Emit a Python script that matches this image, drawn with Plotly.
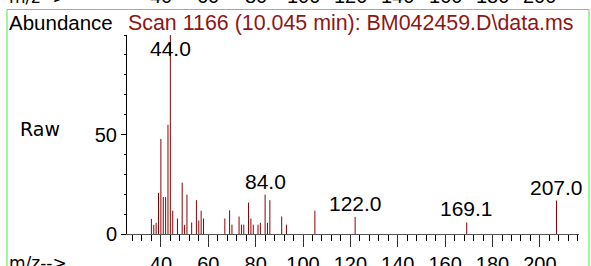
import plotly.graph_objects as go

# ---- data ----
mz = [36, 37, 38, 39, 40, 41, 42, 43, 44, 45, 47, 49, 50, 51, 53, 55, 56, 57, 58,
      67, 69, 70, 73, 74, 75, 77, 78, 79, 81, 82, 84, 85, 86, 91, 93, 105, 122,
      169.1, 207]
abundance = [7.6, 4.6, 5.6, 20.7, 47.8, 18.6, 18.6, 54.9, 100, 11.7, 7.8, 25.8,
             4.6, 19.8, 5.8, 17.0, 6.8, 11.7, 7.8, 7.8, 11.9, 4.7, 8.8, 4.7, 4.7,
             15.8, 7.8, 4.7, 4.7, 5.6, 19.8, 5.6, 17.0, 8.8, 4.7, 11.7, 8.6, 5.8,
             16.8]
labeled_mz = [44.0, 84.0, 122.0, 169.1, 207.0]
x_tick_vals = [40, 60, 80, 100, 120, 140, 160, 180, 200]
y_tick_vals = [0, 50]
title_text = "Scan 1166 (10.045 min): BM042459.D\\data.ms"

# ---- layout geometry ----
W, H = 591, 266
L, R, T, B = 127, 12, 35, 32
PW, PH = W - L - R, H - T - B
X0, X1 = 25.7, 216.5
Y0, Y1 = 0, 100

def px(xpix):
    return (xpix - L) / PW

def py(ypix):
    return (H - B - ypix) / PH

DARK = "#8B0000"
TITLE_RED = "#8E1616"
GREEN = "#44EE44"
FONT = "Arial, Liberation Sans, sans-serif"

xs, ys = [], []
for m, a in zip(mz, abundance):
    xs += [m, m, None]
    ys += [0, a, None]

fig = go.Figure()
fig.add_trace(go.Scatter(x=xs, y=ys, mode="lines",
                         line=dict(color=DARK, width=1),
                         hoverinfo="skip", showlegend=False, cliponaxis=False))

annotations = []
for lm in labeled_mz:
    idx = min(range(len(mz)), key=lambda i: abs(mz[i] - lm))
    h = abundance[idx]
    annotations.append(dict(x=mz[idx], y=min(h, 86.6), xref="x", yref="y",
                            text=f"{lm:.1f}", showarrow=False,
                            xanchor="center", yanchor="bottom",
                            font=dict(family=FONT, size=21, color="black")))

annotations += [
    dict(x=px(7), y=py(23), xref="paper", yref="paper", text="Abundance",
         showarrow=False, xanchor="left", yanchor="middle",
         font=dict(family=FONT, size=20.5, color="black")),
    dict(x=px(126), y=py(23), xref="paper", yref="paper", text=title_text,
         showarrow=False, xanchor="left", yanchor="middle",
         font=dict(family=FONT, size=21.4, color=TITLE_RED)),
    dict(x=px(18), y=py(128.5), xref="paper", yref="paper", text="Raw",
         showarrow=False, xanchor="left", yanchor="middle",
         font=dict(family="DejaVu Sans", size=19, color="black")),
    dict(x=px(7), y=py(263), xref="paper", yref="paper", text="m/z-->",
         showarrow=False, xanchor="left", yanchor="middle",
         font=dict(family="DejaVu Sans", size=17, color="black")),
    dict(x=px(7), y=py(-3), xref="paper", yref="paper", text="m/z-->",
         showarrow=False, xanchor="left", yanchor="middle",
         font=dict(family="DejaVu Sans", size=17, color="black")),
]
for v in x_tick_vals:
    annotations.append(dict(x=v, y=py(-4), xref="x", yref="paper", text=str(v),
                            showarrow=False, xanchor="center", yanchor="middle",
                            font=dict(family=FONT, size=20, color="black")))

shapes = [
    dict(type="line", xref="paper", yref="paper", x0=px(7), x1=px(589),
         y0=py(9.5), y1=py(9.5), line=dict(color=GREEN, width=1)),
    dict(type="line", xref="paper", yref="paper", x0=px(7), x1=px(7),
         y0=py(9.5), y1=py(270), line=dict(color=GREEN, width=1)),
    dict(type="line", xref="paper", yref="paper", x0=px(589), x1=px(589),
         y0=py(9.5), y1=py(270), line=dict(color=GREEN, width=1)),
]

fig.update_layout(
    width=W, height=H,
    margin=dict(l=L, r=R, t=T, b=B, pad=0, autoexpand=False),
    paper_bgcolor="white", plot_bgcolor="white",
    annotations=annotations, shapes=shapes,
    xaxis=dict(range=[X0, X1], showgrid=False, zeroline=False, automargin=False,
               showline=True, linecolor="#555", linewidth=1,
               tickmode="array", tickvals=x_tick_vals,
               ticks="outside", ticklen=12, tickcolor="#333", tickwidth=1,
               minor=dict(tickmode="linear", tick0=0, dtick=4, ticks="outside",
                          ticklen=6, tickcolor="black", tickwidth=1, showgrid=False),
               tickfont=dict(family=FONT, size=20, color="black")),
    yaxis=dict(range=[Y0, Y1], showgrid=False, zeroline=False, automargin=False,
               showline=True, linecolor="black", linewidth=1,
               tickmode="array", tickvals=y_tick_vals,
               ticks="outside", ticklen=5, tickcolor="black", tickwidth=1,
               minor=dict(tickmode="linear", tick0=0, dtick=10, ticks="outside",
                          ticklen=2, tickcolor="black", tickwidth=1, showgrid=False),
               tickfont=dict(family=FONT, size=20, color="black")),
)

fig.write_html("out.html", config={"displayModeBar": False},
               post_script="document.body.style.margin='0';document.body.style.padding='0';document.body.style.overflow='hidden';")
